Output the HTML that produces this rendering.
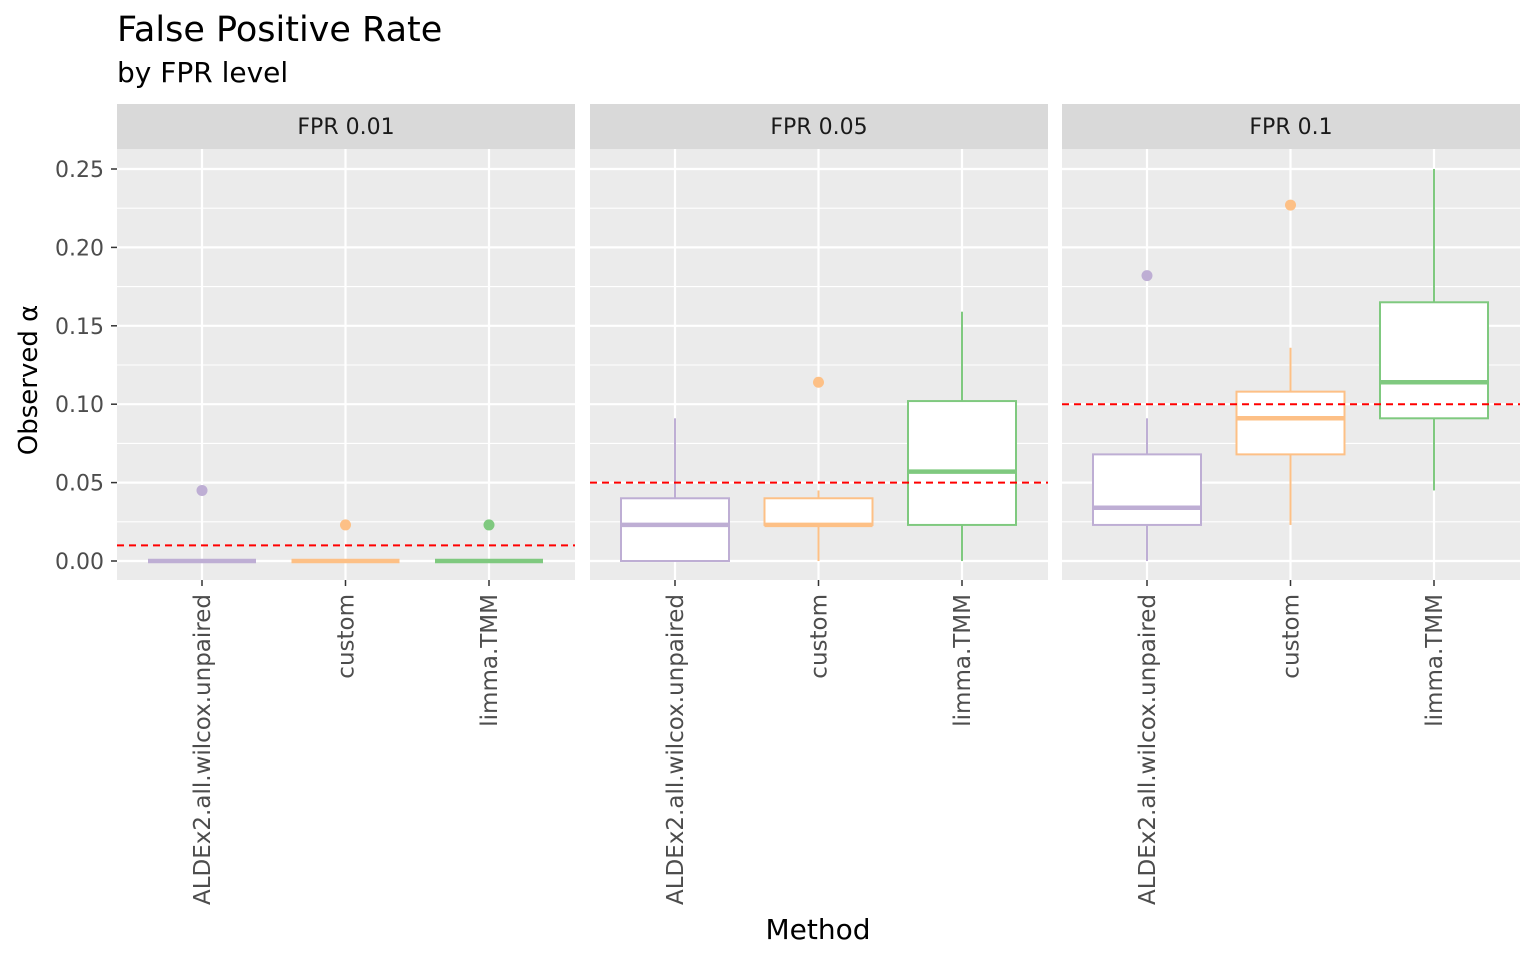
<!DOCTYPE html>
<html><head><meta charset="utf-8"><style>
body{margin:0;background:#fff;font-family:"Liberation Sans","DejaVu Sans",sans-serif}
svg text{font-family:"DejaVu Sans","Liberation Sans",sans-serif}
</style></head><body>
<svg id="chart" width="1536" height="960" xmlns="http://www.w3.org/2000/svg">
<text x="117" y="41" font-size="35" fill="#000">False Positive Rate</text>
<text x="117" y="82" font-size="28" fill="#000">by FPR level</text>
<text x="818" y="939" font-size="28" text-anchor="middle">Method</text>
<text transform="translate(37,380) rotate(-90)" font-size="26" text-anchor="middle">Observed α</text>
<g id="g"></g>
</svg>
<script>
const panels=["FPR 0.01","FPR 0.05","FPR 0.1"];
const fprLevels=[0.01,0.05,0.1];
const methods=["ALDEx2.all.wilcox.unpaired","custom","limma.TMM"];
const colors=["#beaed4","#fdc086","#7fc97f"];
const yTicks=[0,0.05,0.10,0.15,0.20,0.25];
const yTickLabels=["0.00","0.05","0.10","0.15","0.20","0.25"];
// [lower, q1, median, q3, upper] per panel per method
const boxStats=[
 [[0,0,0,0,0],[0,0,0,0,0],[0,0,0,0,0]],
 [[0,0,0.023,0.040,0.091],[0,0.023,0.023,0.040,0.045],[0,0.023,0.057,0.102,0.159]],
 [[0,0.023,0.034,0.068,0.091],[0.023,0.068,0.091,0.108,0.136],[0.045,0.091,0.114,0.165,0.250]]
];
const outliers=[[[0.045],[0.023],[0.023]],[[],[0.114],[]],[[0.182],[0.227],[]]];
const NS="http://www.w3.org/2000/svg";
const g=document.getElementById('g');
const panelX=[117,590,1062],panelW=458,plotTop=149,plotBot=580;
function y(v){return 561-v*1568;}
function el(t,a,p){const e=document.createElementNS(NS,t);for(const k in a)e.setAttribute(k,a[k]);(p||g).appendChild(e);return e;}
function cx(p,i){return panelX[p]+85+i*143.5;}
panels.forEach((name,p)=>{
 const x0=panelX[p];
 const pg=el('g',{});
 
 
 el('rect',{x:x0,y:plotTop,width:panelW,height:plotBot-plotTop,fill:'#ebebeb'},pg);
 for(let k=0;k<yTicks.length;k++){
  const v=yTicks[k];
  const ym=y(v+0.025);
  if(ym>plotTop) el('line',{x1:x0,x2:x0+panelW,y1:ym,y2:ym,stroke:'#fff','stroke-width':1.1},pg);
  el('line',{x1:x0,x2:x0+panelW,y1:y(v),y2:y(v),stroke:'#fff','stroke-width':2.2},pg);
 }
 const st=el('rect',{x:x0,y:104,width:panelW,height:45,fill:'#d9d9d9'},pg);
 
 
 const stt=el('text',{x:x0+panelW/2,y:134,'font-size':22,'text-anchor':'middle',fill:'#1a1a1a'},pg);
 stt.textContent=name;
 
 
 methods.forEach((m,i)=>{
  const c=cx(p,i);
  el('line',{x1:c,x2:c,y1:plotTop,y2:plotBot,stroke:'#fff','stroke-width':2.2},pg);
  const t=el('text',{transform:`translate(${c+8},594) rotate(-90)`,'font-size':23,'text-anchor':'end',fill:'#4d4d4d'},pg);
  t.textContent=m;
  
  
  el('line',{x1:c,x2:c,y1:580,y2:586,stroke:'#333','stroke-width':1.5},pg);
 });
 methods.forEach((m,i)=>{
  const c=cx(p,i),s=boxStats[p][i],col=colors[i],w=54;
  const bx=el('g',{},pg);
  
  
  el('line',{x1:c,x2:c,y1:y(s[0]),y2:y(s[1]),stroke:col,'stroke-width':2},bx);
  el('line',{x1:c,x2:c,y1:y(s[3]),y2:y(s[4]),stroke:col,'stroke-width':2},bx);
  el('rect',{x:c-w,y:y(s[3]),width:2*w,height:y(s[1])-y(s[3]),fill:'#fff',stroke:col,'stroke-width':2},bx);
  el('line',{x1:c-w,x2:c+w,y1:y(s[2]),y2:y(s[2]),stroke:col,'stroke-width':4.5},bx);
  outliers[p][i].forEach(o=>{
   const d=el('circle',{cx:c,cy:y(o),r:5.5,fill:col},bx);
   
   
  });
 });
 const rl=el('line',{x1:x0,x2:x0+panelW,y1:y(fprLevels[p]),y2:y(fprLevels[p]),stroke:'#ff0000','stroke-width':2,'stroke-dasharray':'7,5'},pg);
 
 
});
yTicks.forEach((v,k)=>{
 const t=el('text',{x:104,y:y(v)+8,'font-size':22,'text-anchor':'end',fill:'#4d4d4d'});
 t.textContent=yTickLabels[k];
 
 
 el('line',{x1:111,x2:117,y1:y(v),y2:y(v),stroke:'#333','stroke-width':1.5});
});
</script>
</body></html>
